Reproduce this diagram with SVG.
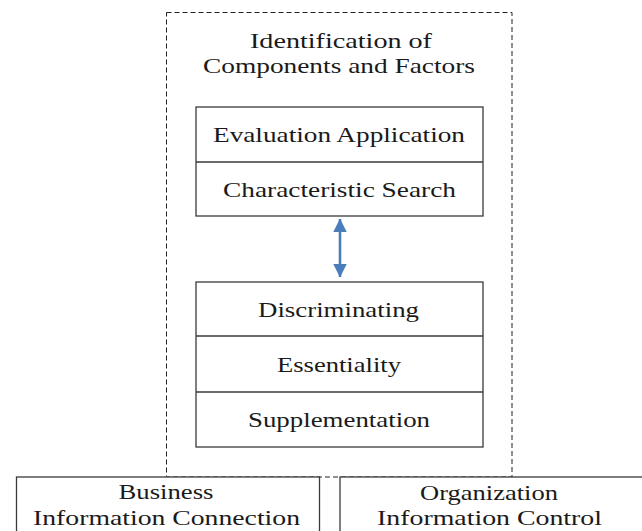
<svg xmlns="http://www.w3.org/2000/svg" width="642" height="531" viewBox="0 0 642 531">
<defs>
<style>
.t{font-family:"Liberation Serif","Times New Roman",serif;font-size:21px;fill:#1a1a1a;text-anchor:middle}
.box{fill:#fff;stroke:#3a3a3a;stroke-width:1.3}
.div{stroke:#3a3a3a;stroke-width:1.3}
</style>
<marker id="ah" markerWidth="6" markerHeight="5.2" refX="5" refY="2.6" orient="auto-start-reverse" markerUnits="strokeWidth">
<path d="M0,0 L5.2,2.6 L0,5.2 z" fill="#4a7ebb"/>
</marker>
</defs>
<rect width="642" height="531" fill="#fff"/>
<g id="outer">
<rect x="166.5" y="12.5" width="345.5" height="464.5" fill="none" stroke="#222" stroke-width="1" stroke-dasharray="5 3"/>
<text class="t" x="341" y="48" textLength="182" lengthAdjust="spacingAndGlyphs">Identification of</text>
<text class="t" x="339" y="73" textLength="272" lengthAdjust="spacingAndGlyphs">Components and Factors</text>
</g>
<g id="box-top">
<rect class="box" x="196" y="107" width="287" height="109"/>
<line class="div" x1="196" y1="162" x2="483" y2="162"/>
<text class="t" x="339" y="142" textLength="252" lengthAdjust="spacingAndGlyphs">Evaluation Application</text>
<text class="t" x="339.5" y="197" textLength="233" lengthAdjust="spacingAndGlyphs">Characteristic Search</text>
</g>
<g id="box-bottom">
<rect class="box" x="196" y="282" width="287" height="165"/>
<line class="div" x1="196" y1="336" x2="483" y2="336"/>
<line class="div" x1="196" y1="392" x2="483" y2="392"/>
<text class="t" x="338.5" y="317" textLength="161" lengthAdjust="spacingAndGlyphs">Discriminating</text>
<text class="t" x="339" y="372" textLength="124" lengthAdjust="spacingAndGlyphs">Essentiality</text>
<text class="t" x="339" y="427" textLength="182" lengthAdjust="spacingAndGlyphs">Supplementation</text>
</g>
<g id="box-business">
<rect class="box" x="16.5" y="477" width="303" height="70"/>
<text class="t" x="166" y="499" textLength="95" lengthAdjust="spacingAndGlyphs">Business</text>
<text class="t" x="166.5" y="525" textLength="267" lengthAdjust="spacingAndGlyphs">Information Connection</text>
</g>
<g id="box-organization">
<rect class="box" x="340" y="477" width="310" height="70"/>
<text class="t" x="489" y="500" textLength="138" lengthAdjust="spacingAndGlyphs">Organization</text>
<text class="t" x="489.5" y="525" textLength="225" lengthAdjust="spacingAndGlyphs">Information Control</text>
</g>
<g id="connectors">
<line x1="340" y1="219" x2="340" y2="277" stroke="#4a7ebb" stroke-width="2.6" marker-start="url(#ah)" marker-end="url(#ah)"/>
</g>
</svg>
